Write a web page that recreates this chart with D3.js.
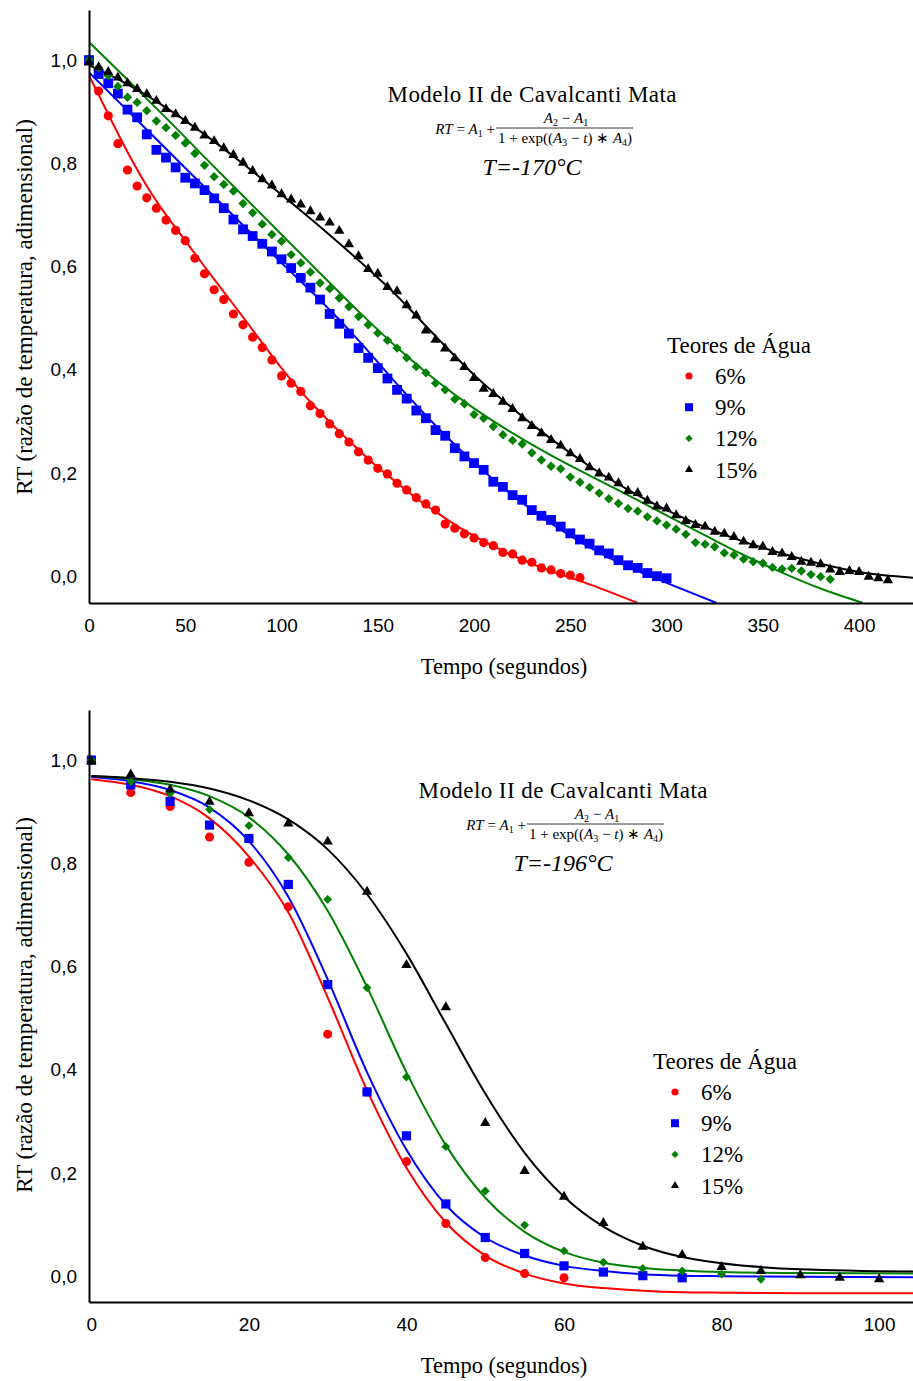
<!DOCTYPE html>
<html><head><meta charset="utf-8">
<script src="https://cdn.jsdelivr.net/npm/d3@7"></script>
<style>body{margin:0;background:#fff}svg{display:block}</style>
</head><body>
<svg id="c" width="913" height="1381"></svg>
<script>
// ---------------- DATA ----------------
const seriesNames = ["6%", "9%", "12%", "15%"];
const seriesColors = ["#ff0000", "#0000ff", "#008000", "#000000"];
const seriesShapes = ["circle", "square", "diamond", "triangle"];

const xTicksTop = [0, 50, 100, 150, 200, 250, 300, 350, 400];
const xTicksBottom = [0, 20, 40, 60, 80, 100];
const yTicks = [0, 0.2, 0.4, 0.6, 0.8, 1.0];

// measured times (s), T = -170 °C
const tTop = [0,5,10,15,20,25,30,35,40,45,50,55,60,65,70,75,80,85,90,95,100,105,110,115,120,125,130,135,140,145,150,155,160,165,170,175,180,185,190,195,200,205,210,215,220,225,230,235,240,245,250,255,260,265,270,275,280,285,290,295,300,305,310,315,320,325,330,335,340,345,350,355,360,365,370,375,380,385,390,395,400,405,410,415];

const rt170_6 = [1.000,0.940,0.892,0.838,0.787,0.756,0.733,0.713,0.690,0.670,0.650,0.616,0.586,0.555,0.536,0.508,0.487,0.463,0.443,0.419,0.388,0.374,0.358,0.330,0.315,0.295,0.276,0.260,0.241,0.225,0.209,0.198,0.180,0.167,0.152,0.140,0.128,0.101,0.093,0.082,0.074,0.065,0.059,0.046,0.043,0.031,0.027,0.016,0.012,0.005,0.002,-0.003];
const rt170_9 = [1.000,0.973,0.955,0.935,0.904,0.889,0.856,0.826,0.811,0.792,0.772,0.761,0.748,0.732,0.713,0.691,0.672,0.659,0.644,0.629,0.614,0.597,0.578,0.559,0.536,0.508,0.489,0.470,0.442,0.423,0.403,0.383,0.361,0.344,0.321,0.306,0.283,0.272,0.248,0.232,0.219,0.206,0.183,0.173,0.157,0.148,0.128,0.117,0.109,0.096,0.083,0.071,0.063,0.050,0.044,0.031,0.021,0.016,0.006,0.000,-0.004];
const rt170_12 = [1.000,0.985,0.970,0.949,0.928,0.918,0.902,0.882,0.869,0.854,0.839,0.819,0.796,0.774,0.759,0.746,0.722,0.704,0.682,0.662,0.649,0.623,0.607,0.589,0.568,0.557,0.539,0.522,0.503,0.487,0.471,0.457,0.442,0.423,0.406,0.394,0.374,0.361,0.343,0.334,0.313,0.306,0.290,0.274,0.263,0.256,0.239,0.225,0.213,0.208,0.192,0.182,0.172,0.161,0.150,0.141,0.131,0.126,0.115,0.107,0.099,0.091,0.081,0.065,0.062,0.057,0.045,0.041,0.033,0.028,0.025,0.017,0.014,0.015,0.010,0.003,-0.001,-0.006];
const rt170_15 = [0.995,0.986,0.977,0.966,0.955,0.944,0.934,0.921,0.905,0.895,0.882,0.869,0.854,0.843,0.829,0.816,0.801,0.785,0.769,0.757,0.740,0.730,0.720,0.707,0.695,0.685,0.669,0.643,0.620,0.595,0.586,0.560,0.552,0.525,0.505,0.476,0.458,0.441,0.422,0.405,0.384,0.363,0.353,0.338,0.324,0.306,0.291,0.277,0.264,0.253,0.238,0.227,0.211,0.199,0.191,0.180,0.165,0.161,0.146,0.135,0.131,0.118,0.107,0.099,0.096,0.086,0.082,0.076,0.067,0.060,0.057,0.047,0.044,0.037,0.028,0.026,0.023,0.013,0.008,0.010,0.008,-0.001,-0.004,-0.008];

// fitted curves, T = -170 °C
const fit170_6_t = [0,10,20,30,40,50,60,70,80,90,100,110,120,130,140,150,160,170,180,190,200,210,220,230,240,250,260,270,285];
const fit170_6_v = [0.970,0.895,0.822,0.756,0.700,0.650,0.600,0.551,0.502,0.452,0.403,0.358,0.318,0.280,0.245,0.211,0.181,0.151,0.125,0.100,0.078,0.058,0.040,0.024,0.010,-0.003,-0.016,-0.030,-0.052];
const fit170_9_t = [0,20,40,60,80,100,120,140,160,180,200,220,240,260,280,300,326];
const fit170_9_v = [0.976,0.902,0.828,0.754,0.680,0.607,0.535,0.457,0.372,0.292,0.220,0.157,0.102,0.056,0.018,-0.013,-0.052];
const fit170_12_t = [0,20,40,60,80,100,120,140,160,180,200,220,240,260,280,300,320,340,360,380,402];
const fit170_12_v = [1.035,0.962,0.888,0.812,0.737,0.662,0.587,0.513,0.443,0.380,0.325,0.277,0.234,0.195,0.157,0.118,0.079,0.041,0.007,-0.024,-0.052];
const fit170_15_t = [0,20,40,60,80,100,120,140,160,180,200,220,240,260,280,300,320,340,360,380,400,428];
const fit170_15_v = [0.990,0.953,0.908,0.856,0.799,0.739,0.677,0.612,0.543,0.465,0.390,0.325,0.266,0.213,0.167,0.128,0.095,0.067,0.044,0.024,0.008,-0.003];

// measured times (s), T = -196 °C
const tBottom = [0,5,10,15,20,25,30,35,40,45,50,55,60,65,70,75,80,85,90,95,100];
const rt196_6 = [1.000,0.937,0.910,0.851,0.802,0.716,0.469,0.357,0.222,0.102,0.036,0.005,-0.003];
const rt196_9 = [1.000,0.952,0.920,0.874,0.848,0.759,0.565,0.357,0.272,0.140,0.075,0.044,0.020,0.008,0.001,-0.003];
const rt196_12 = [1.000,0.958,0.935,0.904,0.873,0.811,0.730,0.559,0.386,0.251,0.165,0.099,0.049,0.027,0.015,0.010,0.004,-0.006];
const rt196_15 = [0.997,0.972,0.943,0.919,0.897,0.877,0.842,0.745,0.603,0.521,0.297,0.204,0.154,0.103,0.057,0.041,0.018,0.010,0.002,-0.003,-0.006];

const fit196_t = [0,5,10,15,20,25,30,35,40,45,50,55,60,65,70,75,80,90,104.3];
const fit196_6 = [0.963,0.952,0.930,0.887,0.813,0.705,0.540,0.360,0.210,0.104,0.040,0.005,-0.014,-0.023,-0.028,-0.031,-0.032,-0.033,-0.033];
const fit196_9 = [0.967,0.959,0.942,0.908,0.843,0.735,0.575,0.395,0.245,0.138,0.075,0.040,0.020,0.010,0.004,0.001,0.000,-0.001,-0.002];
const fit196_12 = [0.969,0.963,0.952,0.930,0.889,0.817,0.708,0.560,0.395,0.254,0.152,0.086,0.047,0.026,0.016,0.011,0.008,0.006,0.005];
const fit196_15 = [0.969,0.965,0.958,0.945,0.922,0.885,0.827,0.740,0.625,0.489,0.354,0.239,0.154,0.096,0.059,0.037,0.025,0.0135,0.009];

// ---------------- DRAW ----------------
const svg = d3.select("#c");
svg.append("rect").attr("width", 913).attr("height", 1381).attr("fill", "#fff");
const SERIF = "'Liberation Serif','Times New Roman',serif";
const SANS = "'Liberation Sans',Arial,sans-serif";

function marker(g, shape, cx, cy, sz, color) {
  if (shape === "circle") {
    g.append("circle").attr("cx", cx).attr("cy", cy).attr("r", sz.r).attr("fill", color);
  } else if (shape === "square") {
    g.append("path").attr("d", d3.symbol(d3.symbolSquare, sz.sq * sz.sq)())
      .attr("transform", `translate(${cx},${cy})`).attr("fill", color);
  } else if (shape === "diamond") {
    g.append("path").attr("d", d3.symbol(d3.symbolSquare, sz.di * sz.di)())
      .attr("transform", `translate(${cx},${cy}) rotate(45)`).attr("fill", color);
  } else {
    g.append("path").attr("d", d3.symbol(d3.symbolTriangle, sz.tri)())
      .attr("transform", `translate(${cx},${cy})`).attr("fill", color);
  }
}

function formula(g, cx, by) {
  const fs = 15, sfs = 10, sd = 3;
  const left = g.append("text").attr("x", cx - 37).attr("y", by + 11)
    .attr("text-anchor", "end").attr("font-family", SERIF).attr("font-size", fs);
  left.append("tspan").attr("font-style", "italic").text("RT");
  left.append("tspan").text(" = ");
  left.append("tspan").attr("font-style", "italic").text("A");
  left.append("tspan").attr("dy", sd).attr("font-size", sfs).text("1");
  left.append("tspan").attr("dy", -sd).text(" +");
  const num = g.append("text").attr("x", cx + 34).attr("y", by)
    .attr("text-anchor", "middle").attr("font-family", SERIF).attr("font-size", fs);
  num.append("tspan").attr("font-style", "italic").text("A");
  num.append("tspan").attr("dy", sd).attr("font-size", sfs).text("2");
  num.append("tspan").attr("dy", -sd).text(" − ");
  num.append("tspan").attr("font-style", "italic").text("A");
  num.append("tspan").attr("dy", sd).attr("font-size", sfs).text("1");
  g.append("line").attr("x1", cx - 36).attr("x2", cx + 101).attr("y1", by + 5).attr("y2", by + 5)
    .attr("stroke", "#000").attr("stroke-width", 0.8);
  const den = g.append("text").attr("x", cx + 33).attr("y", by + 20)
    .attr("text-anchor", "middle").attr("font-family", SERIF).attr("font-size", fs);
  den.append("tspan").text("1 + exp((");
  den.append("tspan").attr("font-style", "italic").text("A");
  den.append("tspan").attr("dy", sd).attr("font-size", sfs).text("3");
  den.append("tspan").attr("dy", -sd).text(" − ");
  den.append("tspan").attr("font-style", "italic").text("t");
  den.append("tspan").text(") ∗ ");
  den.append("tspan").attr("font-style", "italic").text("A");
  den.append("tspan").attr("dy", sd).attr("font-size", sfs).text("4");
  den.append("tspan").attr("dy", -sd).text(")");
}

function panel(p) {
  const g = svg.append("g");
  const x = d3.scaleLinear().domain(p.xDomain).range([89, 913]);
  const y = d3.scaleLinear().domain(p.yDomain).range(p.yRange);
  const clipId = "clip" + p.id;
  svg.append("clipPath").attr("id", clipId).append("rect")
    .attr("x", 89).attr("y", p.yRange[1]).attr("width", 913 - 89).attr("height", p.yRange[0] - p.yRange[1]);

  const line = d3.line().x(d => x(d[0])).y(d => y(d[1])).curve(d3.curveMonotoneX);
  p.fits.forEach((f, i) => {
    g.append("path").datum(d3.zip(f.t, f.v)).attr("d", line)
      .attr("fill", "none").attr("stroke", seriesColors[i]).attr("stroke-width", 2)
      .attr("clip-path", `url(#${clipId})`);
  });
  p.points.forEach((vals, i) => {
    const pg = g.append("g");
    vals.forEach((v, k) => marker(pg, seriesShapes[i], x(p.times[k]), y(v), p.msz, seriesColors[i]));
  });

  const fmt = d => d3.format(".1f")(d).replace(".", ",");
  const ay = g.append("g").attr("transform", "translate(89,0)")
    .call(d3.axisLeft(y).tickValues(yTicks).tickSize(0).tickSizeOuter(0).tickPadding(12).tickFormat(fmt));
  const ax = g.append("g").attr("transform", `translate(0,${p.yRange[0]})`)
    .call(d3.axisBottom(x).tickValues(p.xTicks).tickSize(0).tickSizeOuter(0).tickPadding(15.5).tickFormat(d3.format("d")));
  [ax, ay].forEach(a => {
    a.select(".domain").attr("stroke", "#000").attr("stroke-width", 2);
    a.selectAll("text").attr("font-family", SANS).attr("font-size", 19).attr("fill", "#000");
  });

  g.append("text").attr("x", 504).attr("y", p.yRange[0] + 71).attr("text-anchor", "middle")
    .attr("font-family", SERIF).attr("font-size", 22.5).text("Tempo (segundos)");
  g.append("text").attr("transform", `translate(24,${p.yTitleY}) rotate(-90)`).attr("dy", "0.35em")
    .attr("text-anchor", "middle").attr("font-family", SERIF).attr("font-size", 23)
    .text("RT (razão de temperatura, adimensional)");

  g.append("text").attr("x", p.titleX).attr("y", p.titleY).attr("text-anchor", "middle")
    .attr("font-family", SERIF).attr("font-size", 23).attr("textLength", 289).attr("lengthAdjust", "spacing")
    .text("Modelo II de Cavalcanti Mata");
  formula(g, p.titleX, p.titleY + 21);
  g.append("text").attr("x", p.titleX).attr("y", p.titleY + 73).attr("text-anchor", "middle")
    .attr("font-family", SERIF).attr("font-size", 24).attr("font-style", "italic").text(p.tempLabel);

  g.append("text").attr("x", p.legX).attr("y", p.legY).attr("font-family", SERIF).attr("font-size", 23)
    .text("Teores de Água");
  const lsz = { r: 3.6, sq: 8, di: 5.2, tri: 28 };
  seriesNames.forEach((n, i) => {
    const cy = p.legY + 23 + i * 31.2;
    marker(g, seriesShapes[i], p.legX + 22, cy, lsz, seriesColors[i]);
    g.append("text").attr("x", p.legX + 48).attr("y", cy + 8).attr("font-family", SERIF)
      .attr("font-size", 23).text(n);
  });
}

panel({
  id: "top", xDomain: [0, 428], yDomain: [-0.052, 1.097], yRange: [603, 10],
  xTicks: xTicksTop, times: tTop,
  points: [rt170_6, rt170_9, rt170_12, rt170_15],
  fits: [{ t: fit170_6_t, v: fit170_6_v }, { t: fit170_9_t, v: fit170_9_v },
         { t: fit170_12_t, v: fit170_12_v }, { t: fit170_15_t, v: fit170_15_v }],
  msz: { r: 4.6, sq: 9.8, di: 6.6, tri: 46 },
  yTitleY: 307, titleX: 532, titleY: 102, tempLabel: "T=-170°C", legX: 667, legY: 353
});
panel({
  id: "bot", xDomain: [-0.3, 104.3], yDomain: [-0.05, 1.097], yRange: [1302, 710],
  xTicks: xTicksBottom, times: tBottom,
  points: [rt196_6, rt196_9, rt196_12, rt196_15],
  fits: [{ t: fit196_t, v: fit196_6 }, { t: fit196_t, v: fit196_9 },
         { t: fit196_t, v: fit196_12 }, { t: fit196_t, v: fit196_15 }],
  msz: { r: 4.5, sq: 9.2, di: 6.3, tri: 46 },
  yTitleY: 1005, titleX: 563, titleY: 798, tempLabel: "T=-196°C", legX: 653, legY: 1069
});
</script></body></html>
